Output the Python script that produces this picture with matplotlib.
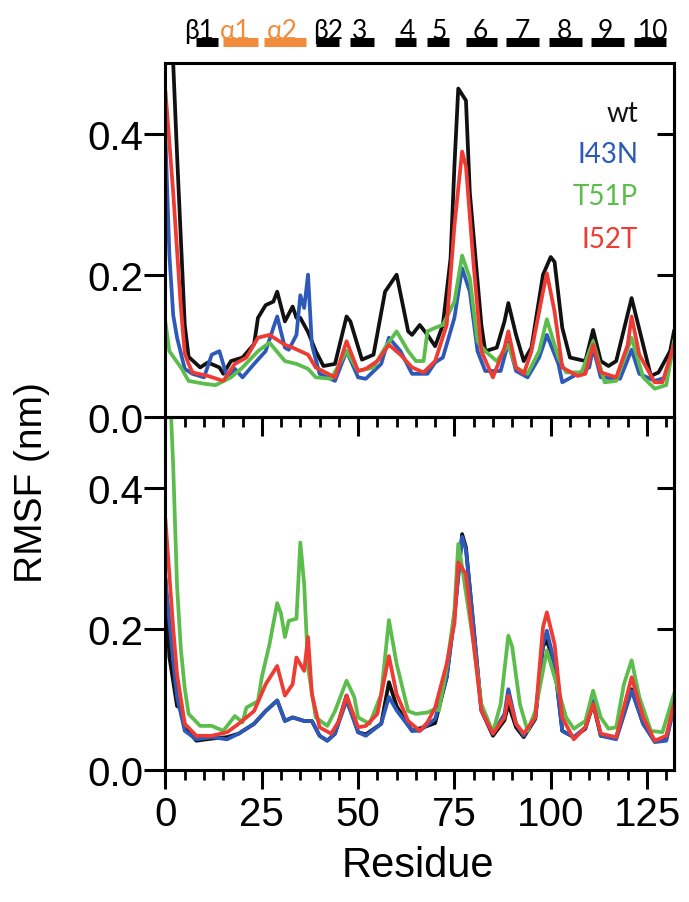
import matplotlib.pyplot as plt
from matplotlib.ticker import MultipleLocator

plt.rcParams['font.family'] = ['Liberation Sans', 'DejaVu Sans']

# ---- data (residue, RMSF in nm) ----
# upper panel
wt_top_res = [0, 1, 2, 3, 4, 5, 6, 9, 11, 14, 15, 17, 20, 23, 24, 26, 28, 29, 31, 33, 34, 35, 37, 39, 41, 44,
              47, 48, 51, 54, 57, 60, 63, 64, 66, 68, 70, 72, 74, 75, 76, 78, 79, 82, 83, 86, 88, 89, 91, 93,
              95, 98, 100, 101, 103, 105, 109, 111, 113, 115, 117, 121, 124, 126, 128, 131, 132]
wt_top = [0.75, 0.62, 0.50, 0.37, 0.25, 0.13, 0.085, 0.070, 0.077, 0.070, 0.061, 0.079, 0.084, 0.103, 0.140,
          0.158, 0.163, 0.177, 0.135, 0.156, 0.140, 0.140, 0.120, 0.093, 0.072, 0.075, 0.142, 0.135, 0.081,
          0.088, 0.177, 0.201, 0.121, 0.116, 0.130, 0.116, 0.100, 0.130, 0.224, 0.354, 0.464, 0.447, 0.317,
          0.130, 0.093, 0.098, 0.135, 0.161, 0.116, 0.079, 0.098, 0.201, 0.226, 0.219, 0.126, 0.084, 0.079,
          0.123, 0.079, 0.072, 0.079, 0.168, 0.102, 0.058, 0.063, 0.093, 0.121]

i43n_top_res = [0, 1, 2, 3, 4, 5, 7, 10, 12, 14, 16, 18, 20, 23, 26, 28, 29, 31, 32, 34, 35, 36, 37, 38, 40,
                44, 47, 50, 52, 56, 58, 61, 64, 68, 70, 72, 75, 77, 79, 81, 83, 87, 89, 91, 94, 97, 99, 102,
                103, 107, 110, 111, 113, 118, 121, 123, 127, 130, 132]
i43n_top = [0.392, 0.23, 0.144, 0.112, 0.090, 0.068, 0.061, 0.056, 0.088, 0.093, 0.056, 0.068, 0.056, 0.075,
            0.093, 0.126, 0.142, 0.098, 0.095, 0.116, 0.172, 0.154, 0.201, 0.102, 0.061, 0.051, 0.093, 0.056,
            0.054, 0.075, 0.112, 0.093, 0.061, 0.061, 0.077, 0.084, 0.140, 0.210, 0.177, 0.093, 0.065, 0.065,
            0.105, 0.065, 0.056, 0.084, 0.116, 0.075, 0.049, 0.061, 0.070, 0.098, 0.056, 0.054, 0.095, 0.061,
            0.051, 0.056, 0.102]

t51p_top_res = [0, 1, 4, 6, 10, 13, 17, 20, 24, 27, 31, 34, 37, 39, 43, 47, 50, 54, 57, 60, 63, 65, 67, 68,
                70, 72, 75, 77, 79, 81, 83, 86, 89, 91, 94, 97, 99, 102, 104, 108, 111, 114, 117, 121, 124,
                127, 130, 132]
t51p_top = [0.133, 0.093, 0.070, 0.051, 0.047, 0.045, 0.056, 0.070, 0.093, 0.105, 0.079, 0.075, 0.068, 0.056,
            0.054, 0.093, 0.065, 0.070, 0.098, 0.121, 0.093, 0.079, 0.079, 0.121, 0.126, 0.130, 0.163, 0.228,
            0.196, 0.107, 0.093, 0.079, 0.102, 0.070, 0.061, 0.093, 0.138, 0.084, 0.063, 0.063, 0.107, 0.049,
            0.051, 0.112, 0.056, 0.040, 0.045, 0.107]

i52t_top_res = [0, 2, 4, 5, 6, 7, 11, 15, 18, 21, 24, 27, 31, 33, 37, 39, 44, 47, 50, 52, 55, 58, 61, 64, 67,
                70, 73, 75, 77, 78, 80, 82, 85, 88, 89, 91, 93, 95, 98, 99, 101, 103, 107, 109, 111, 113, 117,
                120, 121, 123, 127, 129, 132]
i52t_top = [0.459, 0.317, 0.154, 0.090, 0.075, 0.063, 0.058, 0.051, 0.075, 0.084, 0.112, 0.116, 0.102, 0.098,
            0.088, 0.070, 0.056, 0.107, 0.065, 0.068, 0.079, 0.102, 0.088, 0.070, 0.063, 0.079, 0.130, 0.270,
            0.375, 0.354, 0.214, 0.093, 0.056, 0.098, 0.121, 0.070, 0.061, 0.093, 0.177, 0.203, 0.149, 0.070,
            0.058, 0.061, 0.102, 0.063, 0.056, 0.102, 0.142, 0.088, 0.049, 0.049, 0.102]

# lower panel
wt_bot_res = [0, 1, 3, 4, 5, 8, 12, 16, 19, 23, 26, 29, 31, 33, 36, 38, 40, 42, 44, 47, 50, 52, 56, 58, 60,
              64, 68, 70, 73, 75, 77, 78, 80, 82, 85, 88, 89, 91, 93, 96, 98, 99, 101, 103, 106, 109, 111,
              113, 117, 121, 124, 127, 130, 132]
wt_bot = [0.27, 0.16, 0.090, 0.088, 0.060, 0.041, 0.044, 0.046, 0.051, 0.065, 0.083, 0.098, 0.069, 0.074,
          0.069, 0.069, 0.048, 0.041, 0.051, 0.105, 0.053, 0.050, 0.065, 0.124, 0.090, 0.055, 0.062, 0.066,
          0.131, 0.220, 0.334, 0.315, 0.200, 0.084, 0.048, 0.070, 0.093, 0.060, 0.046, 0.072, 0.175, 0.183,
          0.150, 0.055, 0.046, 0.058, 0.093, 0.048, 0.045, 0.114, 0.065, 0.041, 0.043, 0.093]

i43n_bot_res = [0, 2, 3, 5, 8, 12, 16, 19, 23, 26, 29, 31, 33, 36, 38, 40, 42, 44, 47, 50, 52, 56, 58, 60,
                64, 66, 70, 73, 75, 77, 78, 80, 82, 85, 88, 89, 91, 93, 96, 98, 99, 101, 103, 106, 109, 111,
                113, 117, 121, 124, 127, 130, 132]
i43n_bot = [0.268, 0.155, 0.103, 0.055, 0.043, 0.046, 0.043, 0.051, 0.065, 0.083, 0.098, 0.069, 0.074, 0.069,
            0.069, 0.048, 0.041, 0.051, 0.098, 0.053, 0.048, 0.065, 0.103, 0.084, 0.055, 0.055, 0.072, 0.131,
            0.216, 0.330, 0.311, 0.202, 0.084, 0.051, 0.079, 0.114, 0.065, 0.048, 0.074, 0.178, 0.197, 0.150,
            0.055, 0.046, 0.060, 0.098, 0.048, 0.043, 0.112, 0.065, 0.039, 0.041, 0.088]

t51p_bot_res = [0, 1, 2, 3, 4, 5, 6, 9, 12, 15, 18, 20, 21, 24, 25, 27, 29, 30, 31, 32, 34, 35, 36, 37, 39,
                42, 44, 47, 49, 50, 53, 56, 58, 60, 63, 65, 68, 70, 71, 73, 75, 76, 77, 80, 82, 85, 87, 89,
                90, 92, 94, 96, 99, 102, 104, 106, 109, 111, 113, 115, 117, 119, 121, 123, 126, 129, 132]
t51p_bot = [0.62, 0.56, 0.43, 0.26, 0.17, 0.115, 0.079, 0.062, 0.062, 0.055, 0.076, 0.067, 0.088, 0.097,
            0.131, 0.178, 0.236, 0.221, 0.188, 0.211, 0.214, 0.322, 0.263, 0.145, 0.074, 0.062, 0.083, 0.126,
            0.103, 0.074, 0.065, 0.107, 0.212, 0.150, 0.083, 0.079, 0.081, 0.086, 0.084, 0.145, 0.225, 0.320,
            0.287, 0.178, 0.093, 0.053, 0.093, 0.190, 0.174, 0.093, 0.055, 0.083, 0.169, 0.112, 0.074, 0.058,
            0.069, 0.112, 0.074, 0.058, 0.060, 0.121, 0.155, 0.103, 0.055, 0.053, 0.107]

i52t_bot_res = [0, 2, 3, 5, 8, 12, 16, 19, 23, 26, 29, 31, 33, 34, 36, 37, 38, 40, 43, 45, 47, 50, 52, 55,
                58, 60, 63, 66, 68, 70, 73, 75, 76, 78, 80, 82, 85, 88, 89, 91, 93, 96, 98, 99, 101, 103,
                106, 109, 111, 113, 117, 121, 124, 127, 130, 132]
i52t_bot = [0.353, 0.20, 0.135, 0.065, 0.048, 0.048, 0.053, 0.065, 0.083, 0.121, 0.147, 0.105, 0.121, 0.159,
            0.140, 0.188, 0.107, 0.060, 0.051, 0.069, 0.105, 0.060, 0.062, 0.079, 0.161, 0.107, 0.069, 0.055,
            0.067, 0.088, 0.150, 0.207, 0.294, 0.277, 0.178, 0.084, 0.051, 0.074, 0.105, 0.065, 0.051, 0.074,
            0.202, 0.223, 0.178, 0.074, 0.043, 0.060, 0.093, 0.051, 0.046, 0.131, 0.074, 0.041, 0.048, 0.093]

# secondary structure elements along the top
ss_labels = ['β1', 'α1', 'α2', 'β2', '3', '4', '5', '6', '7', '8', '9', '10']
ss_start = [8, 15, 25.5, 39, 48, 59.5, 68, 78, 88.5, 99.5, 110.5, 121.5]
ss_end = [13.5, 24, 36.5, 45, 54, 65, 73.5, 86, 97, 108, 119, 130]
ss_label_x = [8.7, 18.2, 30.4, 42.3, 50.4, 62.8, 71, 81.6, 92.6, 103.6, 114.2, 126.5]
ss_helix = [False, True, True, False, False, False, False, False, False, False, False, False]

names = ['wt', 'I43N', 'T51P', 'I52T']
colors = ['#111111', '#2d5ab8', '#5cbd4c', '#ee3b33']
orange = '#f08c3c'

top_data = [(wt_top_res, wt_top), (i43n_top_res, i43n_top), (t51p_top_res, t51p_top), (i52t_top_res, i52t_top)]
bot_data = [(wt_bot_res, wt_bot), (i43n_bot_res, i43n_bot), (t51p_bot_res, t51p_bot), (i52t_bot_res, i52t_bot)]

fig = plt.figure(figsize=(6.89, 9.03), dpi=100)
ax_bot = fig.add_axes([0.2402, 0.1466, 0.738, 0.3905])
ax_top = fig.add_axes([0.2402, 0.5371, 0.738, 0.392])
# top axes in front so its outward x ticks show over the lower panel
ax_top.set_zorder(3)
ax_top.patch.set_alpha(0)

lw = 2.7
for ax, data in [(ax_top, top_data), (ax_bot, bot_data)]:
    for (res, val), c in zip(data, colors):
        ax.plot(res, val, color=c, lw=lw, solid_joinstyle='round')
    ax.set_xlim(0, 132)
    ax.set_ylim(0, 0.5)
    ax.set_yticks([0.0, 0.2, 0.4])
    ax.xaxis.set_major_locator(MultipleLocator(25))
    ax.xaxis.set_minor_locator(MultipleLocator(5))
    ax.tick_params(axis='y', which='major', direction='out', length=15, width=2.2,
                   labelsize=29, pad=1)
    ax.tick_params(axis='x', which='major', direction='out', length=13.5, width=2.2,
                   labelsize=29, pad=5)
    ax.tick_params(axis='x', which='minor', direction='out', length=7, width=2.0)
    for s in ax.spines.values():
        s.set_linewidth(2.2)
    # inward ticks on the right side
    sec = ax.secondary_yaxis('right')
    sec.set_yticks([0.2, 0.4])
    sec.tick_params(direction='in', length=12, width=2.2, labelright=False)
    sec.spines['right'].set_linewidth(2.2)

ax_top.tick_params(axis='x', which='both', labelbottom=False)

# legend as coloured text
leg_y = [0.860, 0.742, 0.625, 0.504]
for name, c, y in zip(names, colors, leg_y):
    ax_top.text(122.7, y, name, color=c, fontsize=20, ha='right', va='center',
                transform=ax_top.get_xaxis_transform(), family=['Lato', 'Open Sans', 'DejaVu Sans'])

# secondary structure bars and labels
trans = ax_top.get_xaxis_transform()
for lab, x0, x1, xl, helix in zip(ss_labels, ss_start, ss_end, ss_label_x, ss_helix):
    c = orange if helix else 'black'
    ax_top.plot([x0, x1], [1.058, 1.058], color=c, lw=6.5, solid_capstyle='butt',
                transform=trans, clip_on=False)
    ax_top.text(xl, 1.071, lab, color=c, fontsize=19, ha='center', va='baseline',
                transform=trans, family=['Lato', 'Open Sans', 'DejaVu Sans'])

fig.text(0.046, 0.466, 'RMSF (nm)', rotation=90, fontsize=28, ha='center', va='center')
fig.text(0.607, 0.041, 'Residue', fontsize=30, ha='center', va='center')

plt.savefig('out.png', dpi=100)
